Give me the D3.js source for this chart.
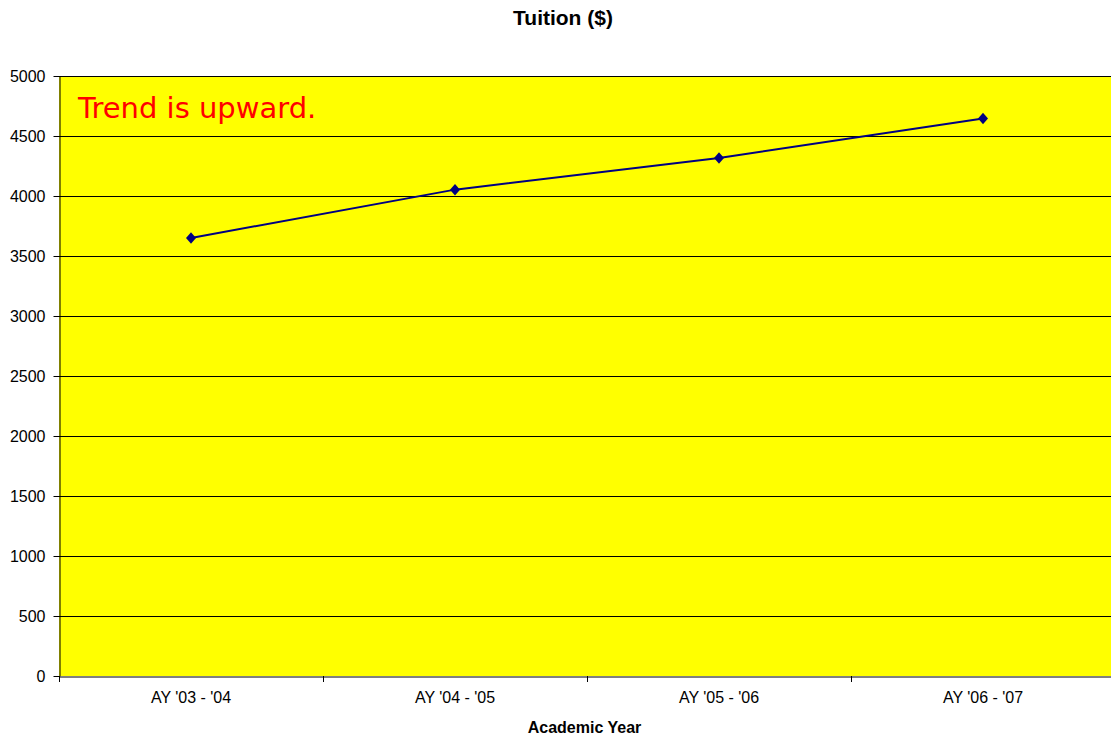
<!DOCTYPE html>
<html><head><meta charset="utf-8">
<script src="https://cdn.jsdelivr.net/npm/d3@7"></script>
<style>body{margin:0;background:#fff}svg{display:block}</style>
</head><body>
<svg id="c" width="1111" height="740"></svg>
<script>
const categories = ["AY '03 - '04", "AY '04 - '05", "AY '05 - '06", "AY '06 - '07"];
const tuition = [3650, 4053, 4317, 4645];
const yTicks = [0, 500, 1000, 1500, 2000, 2500, 3000, 3500, 4000, 4500, 5000];
const title = "Tuition ($)";
const xTitle = "Academic Year";
const note = "Trend is upward.";

const svg = d3.select("#c");
const L = 59, R = 1115, T = 76, B = 676;
const font = "Liberation Sans, Arial, sans-serif";
const x = d3.scaleBand().domain(categories).range([L, R]);
const y = d3.scaleLinear().domain([0, 5000]).range([B, T]);

svg.append("rect").attr("x", L).attr("y", T).attr("width", R - L).attr("height", B - T).attr("fill", "#ffff00");

svg.append("g").selectAll("line").data(yTicks.filter(d => d > 0)).join("line")
  .attr("x1", L).attr("x2", R).attr("y1", d => y(d) + 0.5).attr("y2", d => y(d) + 0.5)
  .attr("stroke", "#000").attr("stroke-width", 1);

const yAxis = svg.append("g").attr("transform", `translate(${L + 0.5},0)`)
  .call(d3.axisLeft(y).tickValues(yTicks).tickFormat(d3.format("d")).tickSize(6).tickPadding(8).tickSizeOuter(0));
yAxis.select(".domain").attr("stroke", "#000");
yAxis.selectAll("text").attr("font-family", font).attr("font-size", 16).attr("fill", "#000");

const xAxis = svg.append("g").attr("transform", `translate(0,${B + 0.5})`)
  .call(d3.axisBottom(x).tickSize(0).tickPadding(15));
xAxis.select(".domain").attr("stroke", "#000");
xAxis.selectAll("text").attr("font-family", font).attr("font-size", 16).attr("fill", "#000");
svg.append("g").selectAll("line").data(categories.concat(["end"])).join("line")
  .attr("x1", (d, i) => Math.round(L + i * x.step()) + 0.5)
  .attr("x2", (d, i) => Math.round(L + i * x.step()) + 0.5)
  .attr("y1", B).attr("y2", B + 6).attr("stroke", "#000");

const cx = d => x(d) + x.bandwidth() / 2;
svg.append("path").datum(tuition)
  .attr("d", d3.line().x((d, i) => cx(categories[i])).y(d => y(d)))
  .attr("fill", "none").attr("stroke", "#000080").attr("stroke-width", 2);
svg.append("g").selectAll("path").data(tuition).join("path")
  .attr("d", d3.symbol(d3.symbolSquare, 50))
  .attr("transform", (d, i) => `translate(${cx(categories[i])},${y(d)}) scale(1,1.15) rotate(45)`)
  .attr("fill", "#000080");

svg.append("text").attr("x", 563).attr("y", 25).attr("text-anchor", "middle")
  .attr("font-family", font).attr("font-weight", "bold").attr("font-size", 21).text(title);
svg.append("text").attr("x", 584.5).attr("y", 733).attr("text-anchor", "middle")
  .attr("font-family", font).attr("font-weight", "bold").attr("font-size", 16).text(xTitle);
svg.append("text").attr("x", 78).attr("y", 118)
  .attr("font-family", "DejaVu Sans, Verdana, sans-serif").attr("font-size", 29).attr("fill", "#ff0000").text(note);
</script>
</body></html>
